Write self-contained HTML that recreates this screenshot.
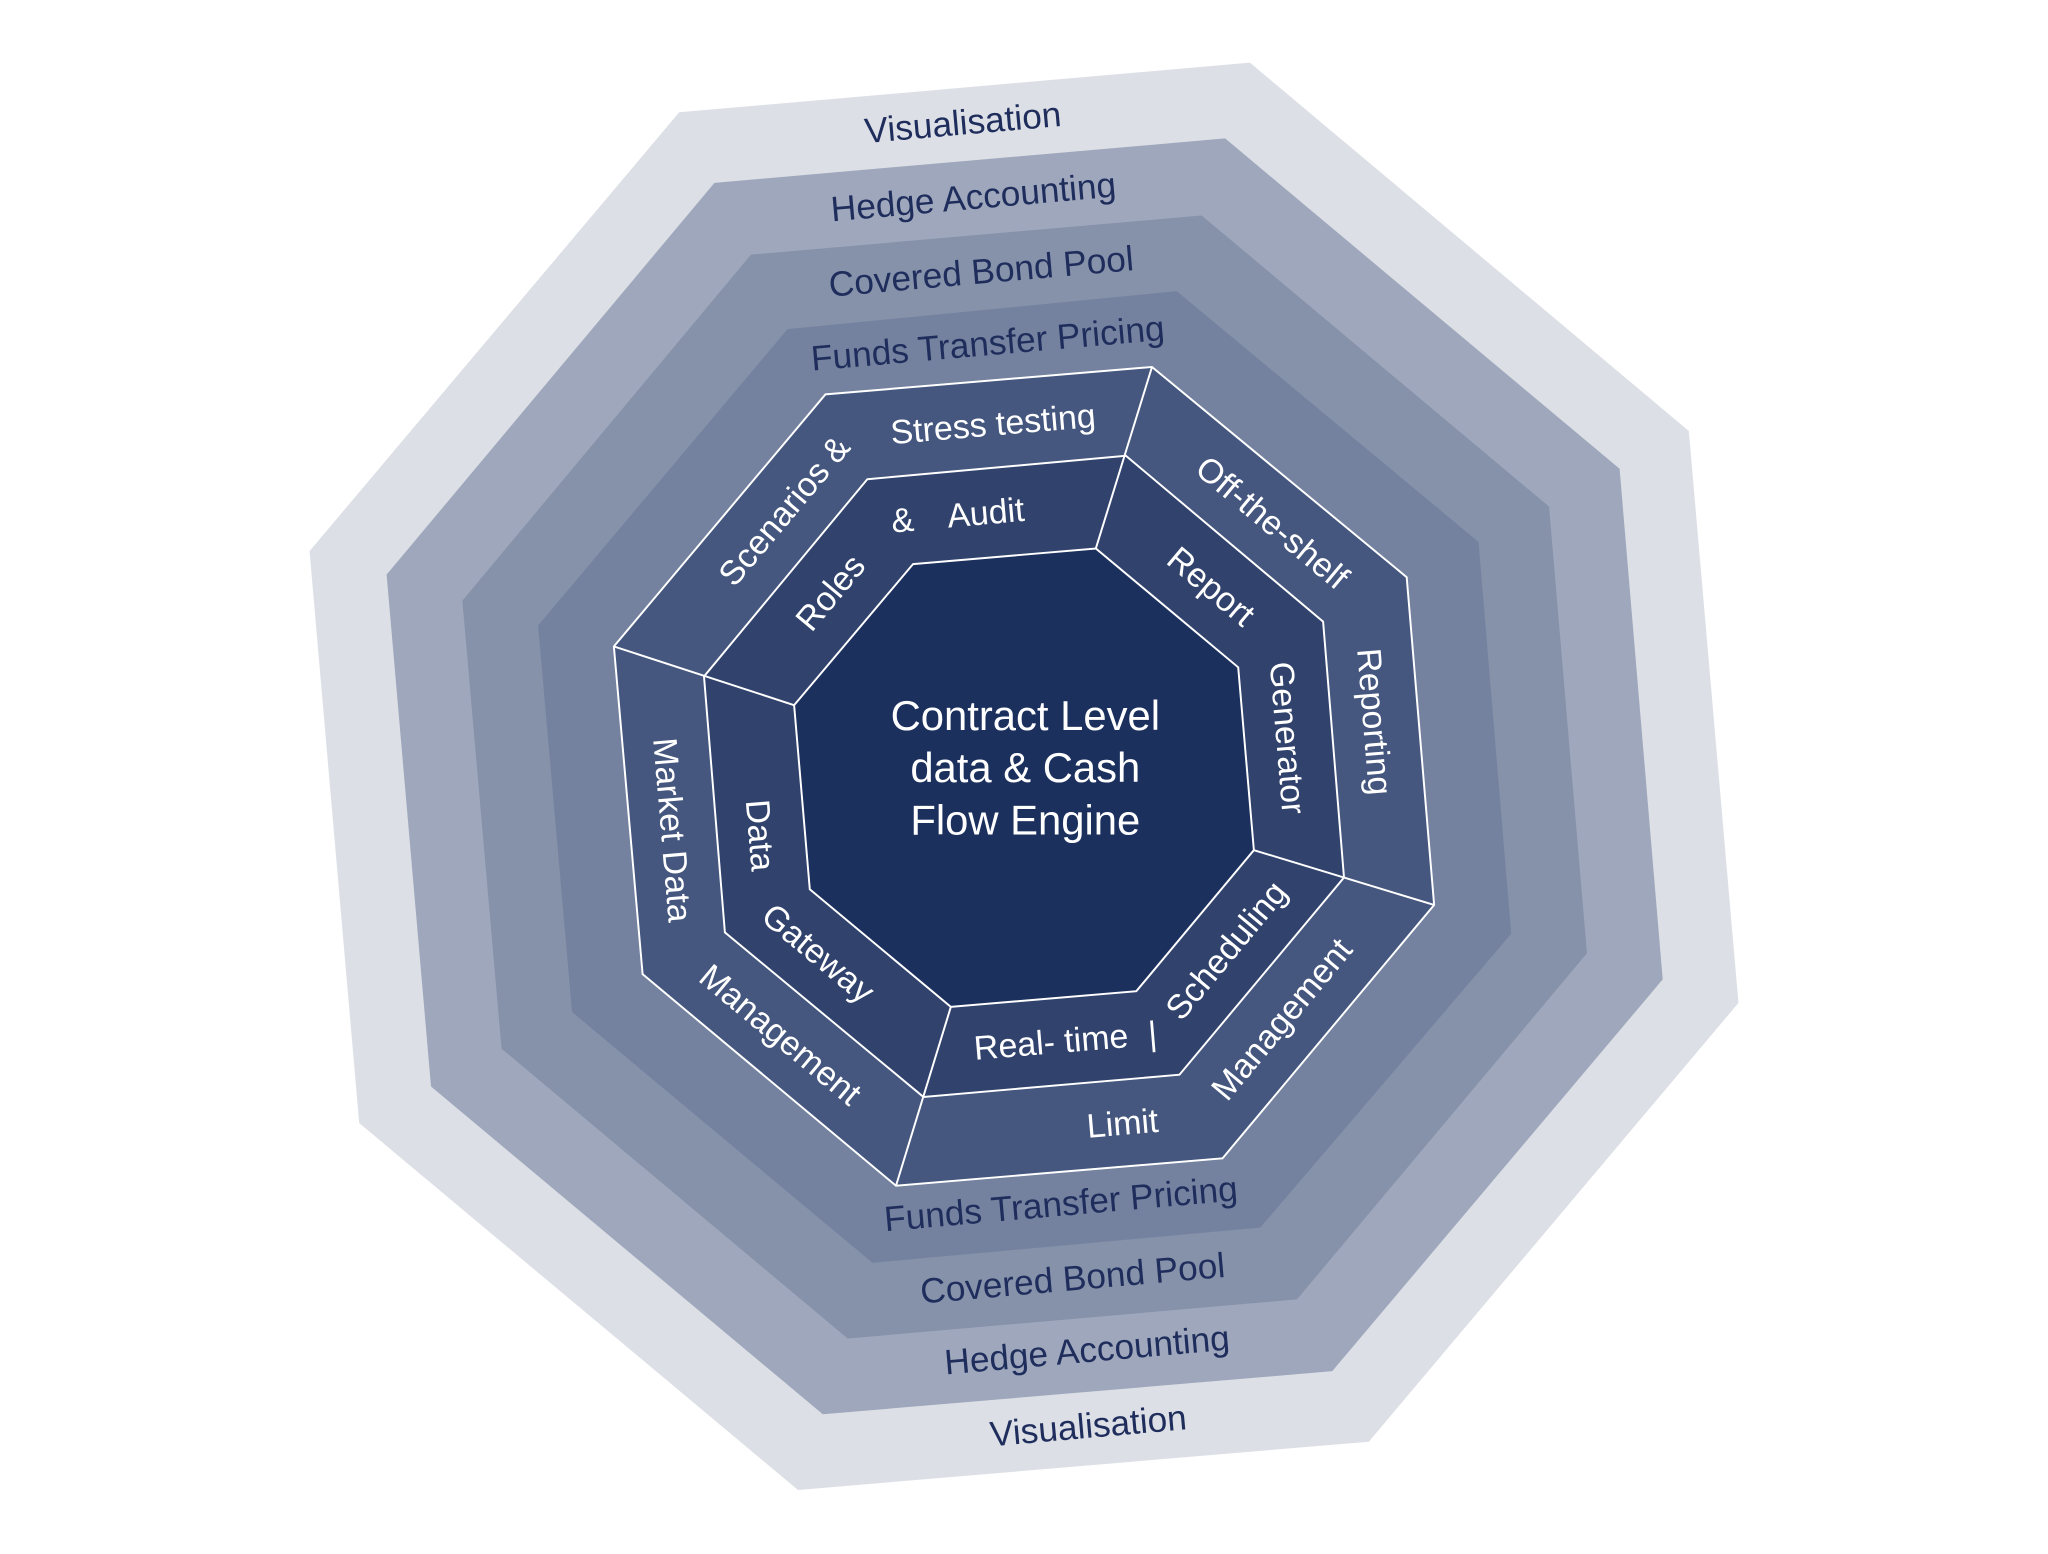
<!DOCTYPE html>
<html><head><meta charset="utf-8"><style>
html,body{margin:0;padding:0;background:#fff;}
svg{display:block;}
text{font-family:"Liberation Sans",sans-serif;}
</style></head><body>
<svg width="2048" height="1554" viewBox="0 0 1568 1190" preserveAspectRatio="none" xmlns="http://www.w3.org/2000/svg">
<polygon points="520,86 957,48 1293,330 1331,768 1048,1104 611,1141 275,860 237,422" fill="#dcdfe5"/>
<polygon points="547,140 938,106 1240,359 1273,750 1020,1050 630,1083 330,832 296,440" fill="#9ea7bb"/>
<polygon points="575,195 920,165 1186,388 1215,730 993,995 649,1025 384,803 354,460" fill="#8691aa"/>
<polygon points="603,252 901,223 1132,415 1157,715 965,940 668,967 438,775 412,479" fill="#74829f"/>
<polygon points="632,302 882,281 1077,442 1098,693 936,887 686,908 492,746 470,495" fill="#45577e" stroke="#fff" stroke-width="1.5"/>
<polygon points="664,367 862,349 1013,476 1029,672 903,823 707,840 555,714 539,518" fill="#31436d" stroke="#fff" stroke-width="1.5"/>
<polygon points="699,432 839,420 948,511 960,651 870,759 728,771 620,681 608,540" fill="#1c305e" stroke="#fff" stroke-width="1.5"/>
<g stroke="#fff" stroke-width="1.5">
<line x1="882" y1="281" x2="839" y2="420"/>
<line x1="1098" y1="693" x2="960" y2="651"/>
<line x1="686" y1="908" x2="728" y2="771"/>
<line x1="470" y1="495" x2="608" y2="540"/>
</g>
<defs>
<path id="o1" d="M504,506 L648,334 L872,315"/>
<path id="o2" d="M872,315 L1045,459 L1063,682"/>
<path id="o3" d="M696,874 L919,855 L1063,682"/>
<path id="o4" d="M504,506 L523,730 L696,874"/>
<path id="i1" d="M573,529 L681,399 L850,384"/>
<path id="i2" d="M850,384 L980,493 L994,661"/>
<path id="i3" d="M717,805 L886,791 L994,661"/>
<path id="i4" d="M573,529 L587,697 L717,805"/>
</defs>
<g fill="#fff" font-size="26" text-anchor="middle">
<text dy="9"><textPath href="#o1" startOffset="150">Scenarios &amp;</textPath></text>
<text dy="9"><textPath href="#o1" startOffset="337">Stress testing</textPath></text>
<text dy="9"><textPath href="#o2" startOffset="133">Off-the-shelf</textPath></text>
<text dy="9"><textPath href="#o2" startOffset="319">Reporting</textPath></text>
<text dy="9"><textPath href="#o3" startOffset="164">Limit</textPath></text>
<text dy="9"><textPath href="#o3" startOffset="321">Management</textPath></text>
<text dy="9"><textPath href="#o4" startOffset="130">Market Data</textPath></text>
<text dy="9"><textPath href="#o4" startOffset="322">Management</textPath></text>
<text dy="9"><textPath href="#i1" startOffset="98">Roles</textPath></text>
<text dy="9"><textPath href="#i1" startOffset="179">&amp;</textPath></text>
<text dy="9"><textPath href="#i1" startOffset="243">Audit</textPath></text>
<text dy="9"><textPath href="#i2" startOffset="101">Report</textPath></text>
<text dy="9"><textPath href="#i2" startOffset="242">Generator</textPath></text>
<text dy="9"><textPath href="#i3" startOffset="88">Real- time</textPath></text>
<text dy="9"><textPath href="#i3" startOffset="166">|</textPath></text>
<text dy="9"><textPath href="#i3" startOffset="252">Scheduling</textPath></text>
<text dy="9"><textPath href="#i4" startOffset="111">Data</textPath></text>
<text dy="9"><textPath href="#i4" startOffset="220">Gateway</textPath></text>
</g>
<g fill="#fff" font-size="32" text-anchor="middle">
<text x="785" y="559">Contract Level</text>
<text x="785" y="599">data &amp; Cash</text>
<text x="785" y="639">Flow Engine</text>
</g>
<g fill="#1f2d5c" font-size="27" text-anchor="middle">
<text transform="translate(738,103) rotate(-5)">Visualisation</text>
<text transform="translate(746,160) rotate(-5)">Hedge Accounting</text>
<text transform="translate(752,217) rotate(-5)">Covered Bond Pool</text>
<text transform="translate(757,272) rotate(-5)">Funds Transfer Pricing</text>
<text transform="translate(813,931) rotate(-5)">Funds Transfer Pricing</text>
<text transform="translate(822,988) rotate(-5)">Covered Bond Pool</text>
<text transform="translate(833,1043) rotate(-5)">Hedge Accounting</text>
<text transform="translate(834,1101) rotate(-5)">Visualisation</text>
</g>
</svg>
</body></html>
